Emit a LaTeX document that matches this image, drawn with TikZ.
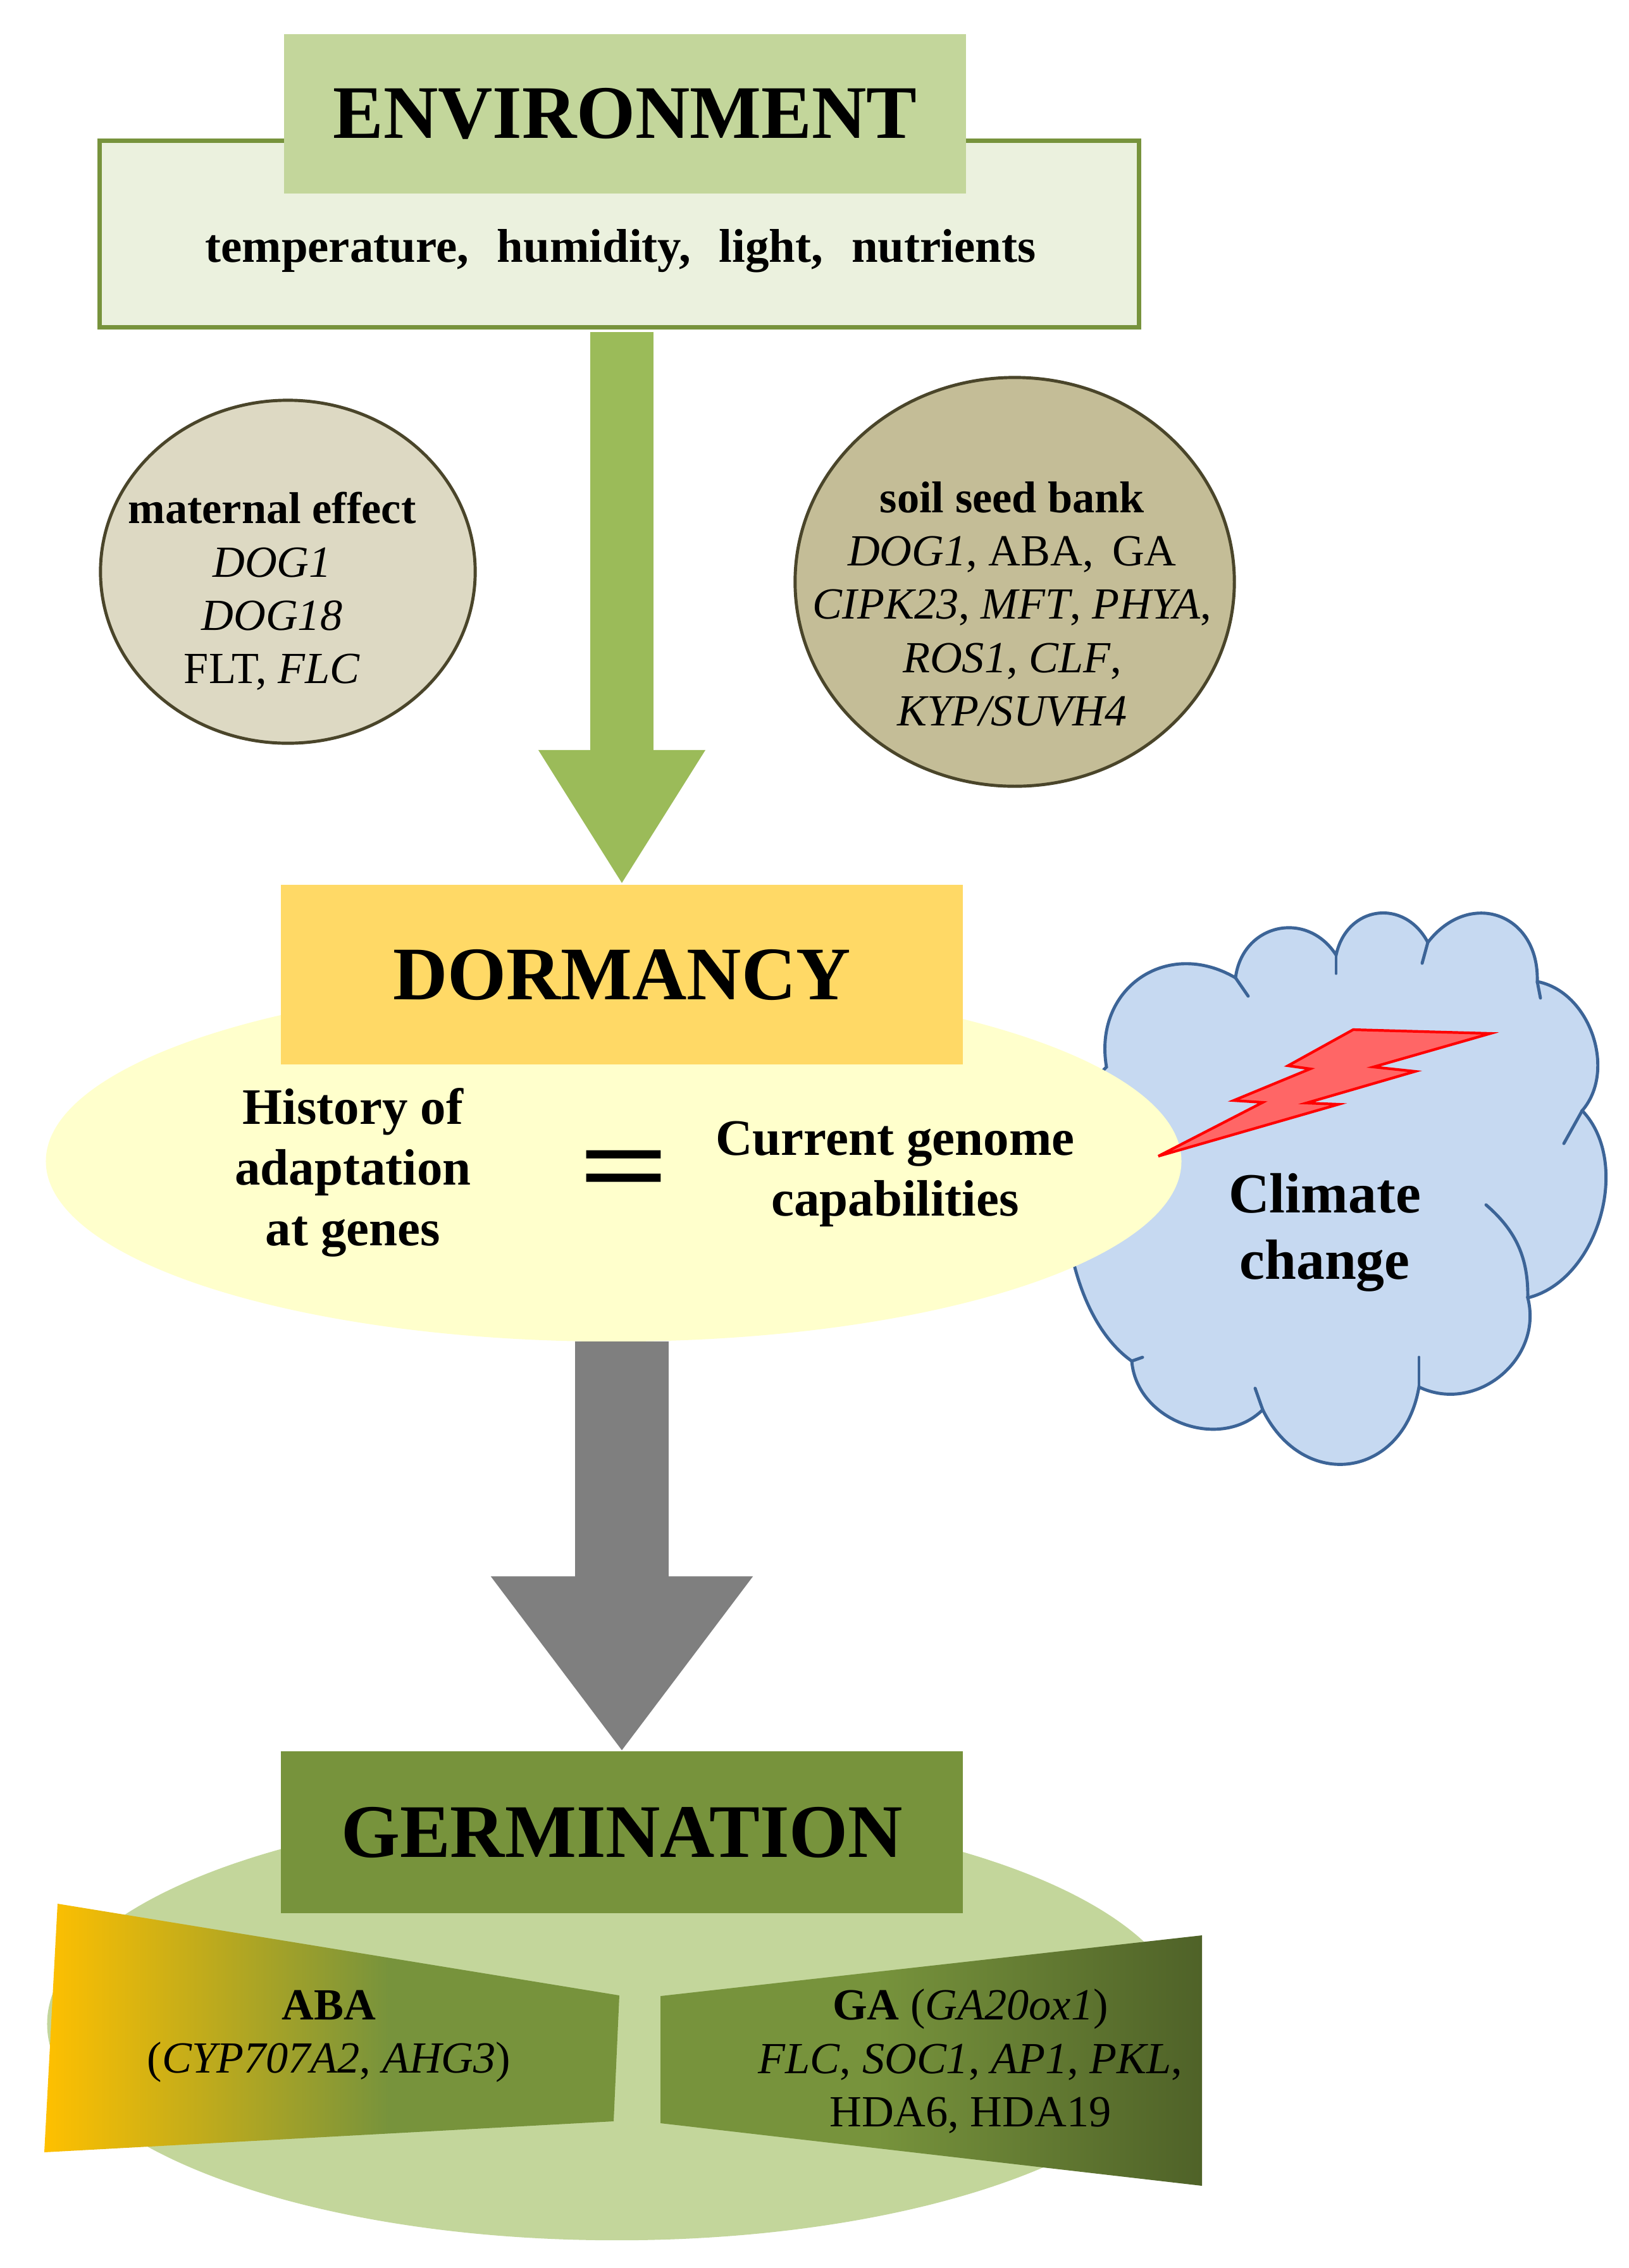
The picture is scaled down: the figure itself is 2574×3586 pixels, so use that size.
\documentclass[tikz,border=0pt]{standalone}
\usepackage{fontspec}
\usepackage{graphicx}
\setmainfont{Liberation Serif}
\usetikzlibrary{shapes.geometric,arrows.meta}

\definecolor{envhead}{HTML}{C3D69B}
\definecolor{envfill}{HTML}{EBF1DE}
\definecolor{envline}{HTML}{77933C}
\definecolor{arrowgreen}{HTML}{9BBB59}
\definecolor{matfill}{HTML}{DDD9C3}
\definecolor{bankfill}{HTML}{C4BD97}
\definecolor{tanline}{HTML}{4A452A}
\definecolor{dormfill}{HTML}{FFFFCC}
\definecolor{dormhead}{HTML}{FFD966}
\definecolor{cloudfill}{HTML}{C6D9F1}
\definecolor{cloudline}{HTML}{3C6497}
\definecolor{boltfill}{HTML}{FF6666}
\definecolor{boltline}{HTML}{FF0000}
\definecolor{arrowgray}{HTML}{7F7F7F}
\definecolor{germfill}{HTML}{C3D69B}
\definecolor{germhead}{HTML}{77933C}
\definecolor{abagold}{HTML}{FFC000}
\definecolor{gadark}{HTML}{4F6228}

\pgfdeclarehorizontalshading{abashade}{100bp}{color(0bp)=(abagold); color(25bp)=(abagold); color(55bp)=(germhead); color(100bp)=(germhead)}
\pgfdeclarehorizontalshading{gashade}{100bp}{color(0bp)=(germhead); color(45bp)=(germhead); color(75bp)=(gadark); color(100bp)=(gadark)}

\tikzset{
  every node/.style={inner sep=0pt, outer sep=0pt},
  headbox/.style={rectangle, minimum width=10.77cm, font=\fontsize{34}{40}\selectfont\bfseries},
  tanoval/.style={ellipse, draw=tanline, line width=1.4pt},
  genetxt/.style={align=center, font=\fontsize{20}{24}\selectfont},
  midtxt/.style={align=center, font=\fontsize{23}{27.2}\selectfont\bfseries},
  cloudtick/.style={cloudline, line width=1.4pt, line cap=round}
}

\begin{document}
\begin{tikzpicture}[x=0.01cm, y=-0.01cm]
\useasboundingbox (0,0) rectangle (2574,3586);

\node[rectangle, draw=envline, line width=2pt, fill=envfill, minimum width=16.42cm, minimum height=2.95cm] (envbox) at (979,370) {};
\node[headbox, fill=envhead, minimum height=2.51cm] (envhead) at (988,180) {ENVIRONMENT};
\node[anchor=base, font=\fontsize{21.3}{26}\selectfont\bfseries] (envtxt) at (981,414) {temperature,\hspace{0.35em} humidity,\hspace{0.35em} light,\hspace{0.35em} nutrients};

\node[tanoval, fill=matfill, minimum width=5.92cm, minimum height=5.42cm] (matell) at (455,904) {};
\node[genetxt] (mattxt) at (430,935) {\textbf{maternal effect}\\ \textit{DOG1}\\ \textit{DOG18}\\ FLT, \textit{FLC}};
\node[tanoval, fill=bankfill, minimum width=6.94cm, minimum height=6.46cm] (bankell) at (1604,920) {};
\node[genetxt] (banktxt) at (1600,955) {\textbf{soil seed bank}\\ \textit{DOG1}, ABA,\, GA\\ \textit{CIPK23}, \textit{MFT}, \textit{PHYA},\\ \textit{ROS1}, \textit{CLF},\\ \textit{KYP/SUVH4}};

\coordinate (c1) at (1749,1687);
\coordinate (c2) at (1953,1546);
\coordinate (c3) at (2112,1510);
\coordinate (c4) at (2257,1490);
\coordinate (c5) at (2430,1552);
\coordinate (c6) at (2501,1756);
\coordinate (c7) at (2415,2052);
\coordinate (c8) at (2243,2193);
\coordinate (c9) at (1996,2229);
\coordinate (c10) at (1789,2152);
\draw[cloudline, fill=cloudfill, line width=1.4pt] (c1) to[bend left=65, looseness=1.3] (c2) to[bend left=70, looseness=1.35] (c3) to[bend left=70, looseness=1.4] (c4) to[bend left=72, looseness=1.5] (c5) to[bend left=60, looseness=1] (c6) to[bend left=60, looseness=0.95] (c7) to[bend left=65, looseness=1.15] (c8) to[bend left=72, looseness=1.5] (c9) to[bend left=65, looseness=1.1] (c10) to[bend left=50, looseness=0.8] (c1) -- cycle;
\draw[cloudtick] (c2) -- +(20,29);
\draw[cloudtick] (c3) -- +(0,29);
\draw[cloudtick] (c4) -- +(-9,33);
\draw[cloudtick] (c5) -- +(5,26);
\draw[cloudtick] (c6) -- +(-29,52);
\draw[cloudtick] (2349,1905) to[bend left=25] (c7);
\draw[cloudtick] (c8) -- +(0,-47);
\draw[cloudtick] (c9) -- +(-12,-34);
\draw[cloudtick] (c10) -- +(17,-6);

\node[ellipse, fill=dormfill, minimum width=17.94cm, minimum height=5.70cm] (dormell) at (970,1836) {};
\draw[boltline, fill=boltfill, line width=1.2pt] (1831,1828) -- (1996,1743) -- (1950,1740) -- (2071,1690) -- (2036,1685) -- (2139,1628) -- (2356,1634) -- (2171,1687) -- (2237,1694) -- (2065,1744) -- (2116,1746) -- cycle;

\node[headbox, fill=dormhead, minimum height=2.84cm] (dormhead) at (983,1541) {DORMANCY};
\node[midtxt] (histtxt) at (558,1854) {History of\\ adaptation\\ at genes};
\node[font=\fontsize{72}{76}\selectfont\bfseries] (eqsign) at (987,1862) {\scalebox{1}[0.73]{=}};
\node[midtxt] (currtxt) at (1415,1856) {Current genome\\ capabilities};
\node[align=center, font=\fontsize{25.5}{30}\selectfont\bfseries] (climtxt) at (2094,1949) {Climate\\ change};

\draw[arrowgreen, line width=0.99cm, -{Triangle[length=2.13cm, width=2.48cm]}, shorten <=0.07cm] (envbox.south -| dormhead.north) -- (dormhead.north);

\node[ellipse, fill=germfill, minimum width=18cm, minimum height=6.84cm] (germell) at (975,3200) {};
\node[headbox, fill=germhead, minimum height=2.55cm] (germhead) at (983,2897) {GERMINATION};
\draw[arrowgray, line width=1.47cm, -{Triangle[length=2.77cm, width=3.95cm]}] (dormell.south -| germhead.north) -- (germhead.north);

\shade[shading=abashade] (91,3010) -- (979,3155) -- (970,3354) -- (70,3403) -- cycle;
\shade[shading=gashade] (1044,3156) -- (1900,3060) -- (1900,3456) -- (1044,3357) -- cycle;
\node[genetxt] (abatxt) at (520,3220) {\textbf{ABA}\\ (\textit{CYP707A2}, \textit{AHG3})};
\node[genetxt] (gatxt) at (1534,3259) {\textbf{GA} (\textit{GA20ox1})\\ \textit{FLC}, \textit{SOC1}, \textit{AP1}, \textit{PKL},\\ HDA6, HDA19};
\end{tikzpicture}
\end{document}
